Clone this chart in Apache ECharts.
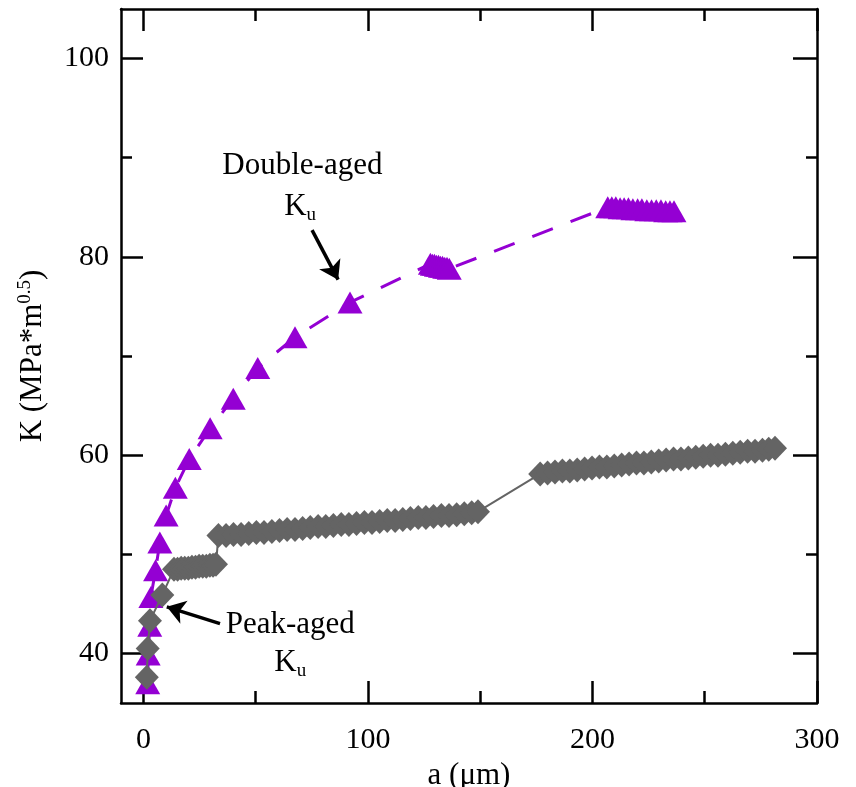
<!DOCTYPE html>
<html>
<head>
<meta charset="utf-8">
<script src="https://cdn.jsdelivr.net/npm/echarts@6/dist/echarts.min.js"></script>
<style>
  html, body { margin: 0; padding: 0; background: #ffffff; }
  #chart { width: 856px; height: 787px; }
</style>
</head>
<body>
<div id="chart"></div>
<script>
// Crack length a (µm) and stress intensity K (MPa*m^0.5)

// Double-aged Ku (triangles, dashed)
const doubleAgedA = [1.9, 2.1, 2.8, 3.3, 5.4, 7.3, 10.1, 14.2, 20.4, 29.7, 40.0, 50.9, 67.5, 92.0,
  127.8, 128.7, 129.6, 130.5, 131.4, 132.3, 133.2, 134.2, 135.2, 136.2,
  206.8, 208.6, 210.4, 212.3, 214.1, 216.0, 218.0, 220.1, 222.0, 224.2, 226.3, 228.4, 230.5, 232.6, 234.5, 236.3];
const doubleAgedK = [37.0, 39.9, 42.8, 45.7, 48.4, 51.2, 53.9, 56.7, 59.6, 62.7, 65.7, 68.8, 71.9, 75.4,
  79.3, 79.2, 79.2, 79.1, 79.1, 79.0, 79.0, 78.9, 78.9, 78.8,
  85.0, 85.0, 85.0, 84.9, 84.9, 84.9, 84.8, 84.8, 84.8, 84.7, 84.7, 84.7, 84.7, 84.6, 84.6, 84.6];

// Peak-aged Ku (diamonds, solid)
const peakAgedA = [1.5, 1.9, 2.9, 8.4,
  13.6, 15.2, 16.8, 18.4, 20.0, 21.6, 23.2, 24.8, 26.4, 28.0, 29.6, 31.0, 32.3,
  33.4, 36.8, 40.1, 43.5, 46.9, 50.3, 53.7, 57.2, 60.6, 64.0, 67.5, 70.9, 74.3, 77.8, 81.2, 84.6,
  88.1, 91.5, 94.9, 98.4, 101.8, 105.2, 108.6, 112.1, 115.5, 118.9, 122.4, 125.8, 129.2, 132.7,
  136.1, 139.5, 142.9, 146.2, 149.0,
  176.7, 180.0, 183.3, 186.6, 189.9, 193.2, 196.5, 199.8, 203.1, 206.4, 209.7, 213.0, 216.3,
  219.6, 222.9, 226.2, 229.5, 232.8, 236.1, 239.4, 242.7, 246.0, 249.3, 252.6, 255.9, 259.2,
  262.5, 265.8, 269.1, 272.4, 275.7, 278.5, 281.3];
const peakAgedK = [37.6, 40.5, 43.3, 45.9,
  48.5, 48.5, 48.6, 48.6, 48.6, 48.7, 48.7, 48.8, 48.8, 48.8, 48.9, 48.9, 49.0,
  51.9, 51.9, 52.0, 52.0, 52.1, 52.2, 52.2, 52.3, 52.4, 52.5, 52.5, 52.6, 52.7, 52.8, 52.8, 52.9,
  53.0, 53.0, 53.1, 53.2, 53.2, 53.3, 53.4, 53.4, 53.5, 53.6, 53.7, 53.7, 53.8, 53.9,
  53.9, 54.0, 54.1, 54.2, 54.3,
  58.1, 58.2, 58.3, 58.4, 58.4, 58.5, 58.6, 58.7, 58.8, 58.8, 58.9, 59.0, 59.1,
  59.2, 59.2, 59.3, 59.4, 59.5, 59.6, 59.6, 59.7, 59.8, 59.9, 60.0, 60.0, 60.1,
  60.2, 60.3, 60.4, 60.4, 60.5, 60.6, 60.7];

// Axis ticks
const xMajorTicks = [0, 100, 200, 300];
const xMinorTicks = [50, 150, 250];
const yMajorTicks = [40, 60, 80, 100];
const yMinorTicks = [50, 70, 90];
const xRange = [-10, 300];
const yRange = [35, 105];

const FONT = 'Liberation Serif';
const INK = '#000000';
const VIOLET = '#9400d3';
const GREY = '#646464';

function pairs(xs, ys) { return xs.map((x, i) => [x, ys[i]]); }

function xAxisDef(position, ticks, len, withLine, withLabel) {
  return {
    type: 'value', position: position, min: xRange[0], max: xRange[1],
    axisLine: { show: withLine, onZero: false, lineStyle: { color: INK, width: 2.5 } },
    axisTick: { show: true, inside: true, length: len, customValues: ticks, lineStyle: { color: INK, width: 2.5 } },
    axisLabel: withLabel
      ? { show: true, customValues: ticks, margin: 22, color: INK, fontFamily: FONT, fontSize: 30 }
      : { show: false },
    splitLine: { show: false },
    name: withLabel ? 'a (μm)' : '',
    nameLocation: 'middle', nameGap: 53,
    nameTextStyle: { color: INK, fontFamily: FONT, fontSize: 31 }
  };
}

function yAxisDef(position, ticks, len, withLine, withLabel) {
  return {
    type: 'value', position: position, min: yRange[0], max: yRange[1],
    axisLine: { show: withLine, onZero: false, lineStyle: { color: INK, width: 2.5 } },
    axisTick: { show: true, inside: true, length: len, customValues: ticks, lineStyle: { color: INK, width: 2.5 } },
    axisLabel: withLabel
      ? { show: true, customValues: ticks, margin: 12, color: INK, fontFamily: FONT, fontSize: 30 }
      : { show: false },
    splitLine: { show: false },
    name: withLabel ? '{n|K (MPa*m}{sup|0.5}{n|)}' : '',
    nameLocation: 'middle', nameGap: 71,
    nameTextStyle: {
      color: INK, fontFamily: FONT, fontSize: 31,
      rich: {
        n: { fontFamily: FONT, fontSize: 31, lineHeight: 34, color: INK },
        sup: { fontFamily: FONT, fontSize: 19, lineHeight: 18, verticalAlign: 'top', color: INK }
      }
    }
  };
}

const chart = echarts.init(document.getElementById('chart'), null, { renderer: 'canvas' });

chart.setOption({
  animation: false,
  backgroundColor: '#ffffff',
  grid: { left: 121, right: 39, top: 9, bottom: 84, containLabel: false, outerBoundsMode: 'none' },
  xAxis: [
    xAxisDef('bottom', xMajorTicks, 22, true, true),
    xAxisDef('bottom', xMinorTicks, 12, false, false),
    xAxisDef('top', xMajorTicks, 22, true, false),
    xAxisDef('top', xMinorTicks, 12, false, false)
  ],
  yAxis: [
    yAxisDef('left', yMajorTicks, 22, true, true),
    yAxisDef('left', yMinorTicks, 11, false, false),
    yAxisDef('right', yMajorTicks, 24, true, false),
    yAxisDef('right', yMinorTicks, 11, false, false)
  ],
  series: [
    {
      name: 'Double-aged',
      type: 'line',
      xAxisIndex: 0, yAxisIndex: 0,
      data: pairs(doubleAgedA, doubleAgedK),
      symbol: 'triangle',
      symbolSize: [25, 22],
      showAllSymbol: true,
      itemStyle: { color: VIOLET },
      lineStyle: { color: VIOLET, width: 3, type: [22, 19] },
      z: 2
    },
    {
      name: 'Peak-aged',
      type: 'line',
      xAxisIndex: 0, yAxisIndex: 0,
      data: pairs(peakAgedA, peakAgedK),
      symbol: 'diamond',
      symbolSize: [24, 25],
      showAllSymbol: true,
      itemStyle: { color: GREY },
      lineStyle: { color: GREY, width: 2 },
      z: 3,
      markLine: {
        silent: true,
        symbol: ['none', 'arrow'],
        symbolSize: 18,
        label: { show: false },
        lineStyle: { color: INK, width: 3.5, type: 'solid' },
        data: [
          [{ coord: [75.1, 82.7] }, { coord: [86.7, 77.7] }],
          [{ coord: [34.1, 43.0] }, { coord: [10.4, 44.7] }]
        ]
      }
    }
  ]
});

// Annotation text anchored in data space
const notes = [
  { at: [70.8, 89.2], text: 'Double-aged' },
  { at: [69.8, 85.0], text: '{k|K}{s|u}' },
  { at: [65.4, 42.9], text: 'Peak-aged' },
  { at: [65.4, 39.0], text: '{k|K}{s|u}' }
];
chart.setOption({
  graphic: notes.map(n => {
    const p = chart.convertToPixel({ xAxisIndex: 0, yAxisIndex: 0 }, n.at);
    return {
      type: 'text', x: p[0], y: p[1], z: 10,
      style: {
        text: n.text, fill: INK, font: '31px "Liberation Serif"',
        align: 'center', verticalAlign: 'middle',
        rich: {
          k: { fontFamily: FONT, fontSize: 31, lineHeight: 34, fill: INK },
          s: { fontFamily: FONT, fontSize: 19, lineHeight: 18, verticalAlign: 'bottom', fill: INK }
        }
      }
    };
  })
});
</script>
</body>
</html>
